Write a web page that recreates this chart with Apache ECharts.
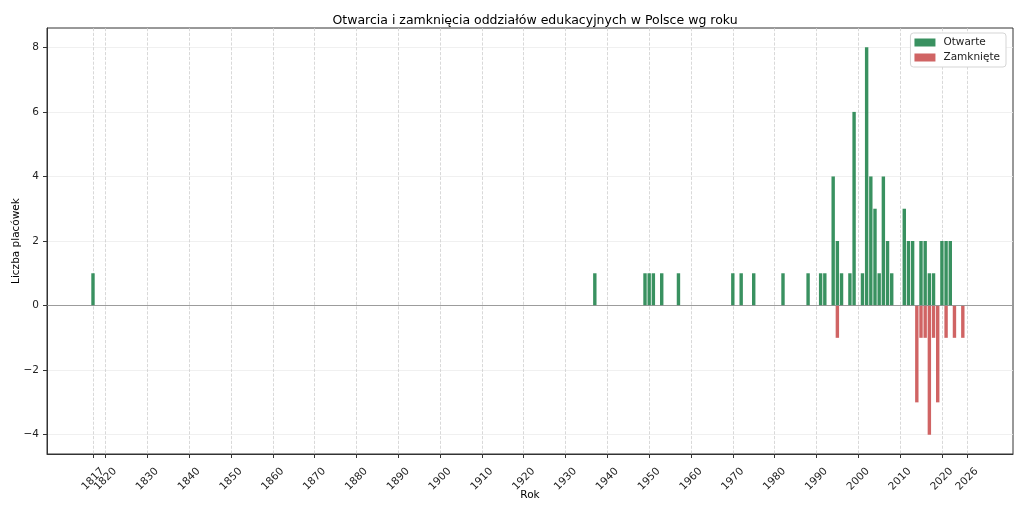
<!DOCTYPE html>
<html>
<head>
<meta charset="utf-8">
<script src="https://cdn.jsdelivr.net/npm/echarts@6/dist/echarts.min.js"></script>
<style>
  html, body { margin: 0; padding: 0; background: #fff; }
  #main { width: 1024px; height: 512px; }
</style>
</head>
<body>
<div id="main"></div>
<script>
// lata i liczby otwarć
var openYears = [1817, 1937, 1949, 1950, 1951, 1953, 1957, 1970, 1972, 1975, 1982, 1988,
    1991, 1992, 1994, 1995, 1996, 1998, 1999, 2001, 2002, 2003, 2004, 2005, 2006, 2007,
    2008, 2011, 2012, 2013, 2015, 2016, 2017, 2018, 2020, 2021, 2022];
var openCounts = [1, 1, 1, 1, 1, 1, 1, 1, 1, 1, 1, 1,
    1, 1, 4, 2, 1, 1, 6, 1, 8, 4, 3, 1, 4, 2,
    1, 3, 2, 2, 2, 2, 1, 1, 2, 2, 2];

// lata i liczby zamknięć (ujemne)
var closedYears = [1995, 2014, 2015, 2016, 2017, 2018, 2019, 2021, 2023, 2025];
var closedCounts = [-1, -3, -1, -1, -4, -1, -3, -1, -1, -1];

var xTicks = [1817, 1820, 1830, 1840, 1850, 1860, 1870, 1880, 1890, 1900, 1910, 1920,
    1930, 1940, 1950, 1960, 1970, 1980, 1990, 2000, 2010, 2020, 2026];
var yTicks = [-4, -2, 0, 2, 4, 6, 8];

function pairs(xs, ys) {
    return xs.map(function (x, i) { return [x, ys[i]]; });
}

var font = 'DejaVu Sans';
var myChart = echarts.init(document.getElementById('main'));

// wspólny styl etykiet osi X (obrócone o 45°)
function xLabel(values) {
    return {
        customValues: values,
        interval: 0,
        hideOverlap: false,
        rotate: 45,
        align: 'center',
        verticalAlign: 'middle',
        margin: 25,
        fontFamily: font,
        fontSize: 10.5,
        color: '#222',
        formatter: function (v) { return String(v); }
    };
}

var option = {
    animation: false,
    textStyle: { fontFamily: font },
    title: {
        text: 'Otwarcia i zamknięcia oddziałów edukacyjnych w Polsce wg roku',
        left: 530,
        top: 9,
        textAlign: 'center',
        textStyle: { fontFamily: font, fontSize: 12.5, fontWeight: 'normal', color: '#000' }
    },
    legend: {
        orient: 'vertical',
        right: 18,
        top: 33,
        icon: 'rect',
        itemWidth: 21,
        itemHeight: 8,
        itemGap: 4,
        padding: [4, 6, 4, 4],
        borderColor: '#d5d5d5',
        borderWidth: 1,
        borderRadius: 3,
        backgroundColor: '#fff',
        textStyle: { fontFamily: font, fontSize: 10.5, color: '#222', padding: [0, 0, 0, 3] },
        data: ['Otwarte', 'Zamknięte']
    },
    grid: {
        left: 47, right: 11, top: 28, bottom: 58,
        outerBoundsMode: 'none',
        containLabel: false,
        show: true, borderColor: '#333', borderWidth: 1, backgroundColor: 'transparent'
    },
    xAxis: [
        {
            type: 'value',
            min: 1806,
            max: 2037,
            name: 'Rok',
            nameLocation: 'middle',
            nameGap: 36,
            nameMoveOverlap: false,
            nameTextStyle: { fontFamily: font, fontSize: 10.5, color: '#000' },
            axisLine: { show: true, onZero: false, lineStyle: { color: '#333' } },
            axisTick: { show: true, customValues: xTicks, length: 4, lineStyle: { color: '#333' } },
            axisLabel: xLabel(xTicks.slice(1)),
            splitLine: { show: true, lineStyle: { color: '#cfcfcf', type: 'dashed', width: 0.8 } }
        },
        {
            // osobna oś tylko dla etykiety 1817, żeby nie znikała przy 1820
            type: 'value',
            position: 'bottom',
            offset: 0,
            min: 1806,
            max: 2037,
            axisLine: { show: false },
            axisTick: { show: false },
            splitLine: { show: false },
            axisLabel: xLabel(xTicks.slice(0, 1))
        }
    ],
    yAxis: {
        type: 'value',
        min: -4.6,
        max: 8.6,
        name: 'Liczba placówek',
        nameLocation: 'middle',
        nameGap: 25,
        nameMoveOverlap: false,
        nameTextStyle: { fontFamily: font, fontSize: 10.5, color: '#000' },
        axisLine: { show: true, lineStyle: { color: '#333' } },
        axisTick: { show: true, customValues: yTicks, length: 4, lineStyle: { color: '#333' } },
        axisLabel: {
            customValues: yTicks,
            fontFamily: font,
            fontSize: 10.5,
            color: '#222',
            margin: 8,
            formatter: function (v) { return String(v).replace('-', '\u2212'); }
        },
        splitLine: { show: true, lineStyle: { color: '#ececec', width: 0.8 } }
    },
    series: [
        {
            name: 'Otwarte',
            type: 'bar',
            stack: 'total',
            barWidth: 3.4,
            itemStyle: { color: '#2e8b57', opacity: 0.95 },
            data: pairs(openYears, openCounts),
            markLine: {
                silent: true,
                symbol: 'none',
                label: { show: false },
                lineStyle: { color: '#888', type: 'solid', width: 0.8 },
                data: [{ yAxis: 0 }]
            }
        },
        {
            name: 'Zamknięte',
            type: 'bar',
            stack: 'total',
            barWidth: 3.4,
            itemStyle: { color: '#cd5c5c', opacity: 0.95 },
            data: pairs(closedYears, closedCounts)
        }
    ]
};

myChart.setOption(option);
</script>
</body>
</html>
